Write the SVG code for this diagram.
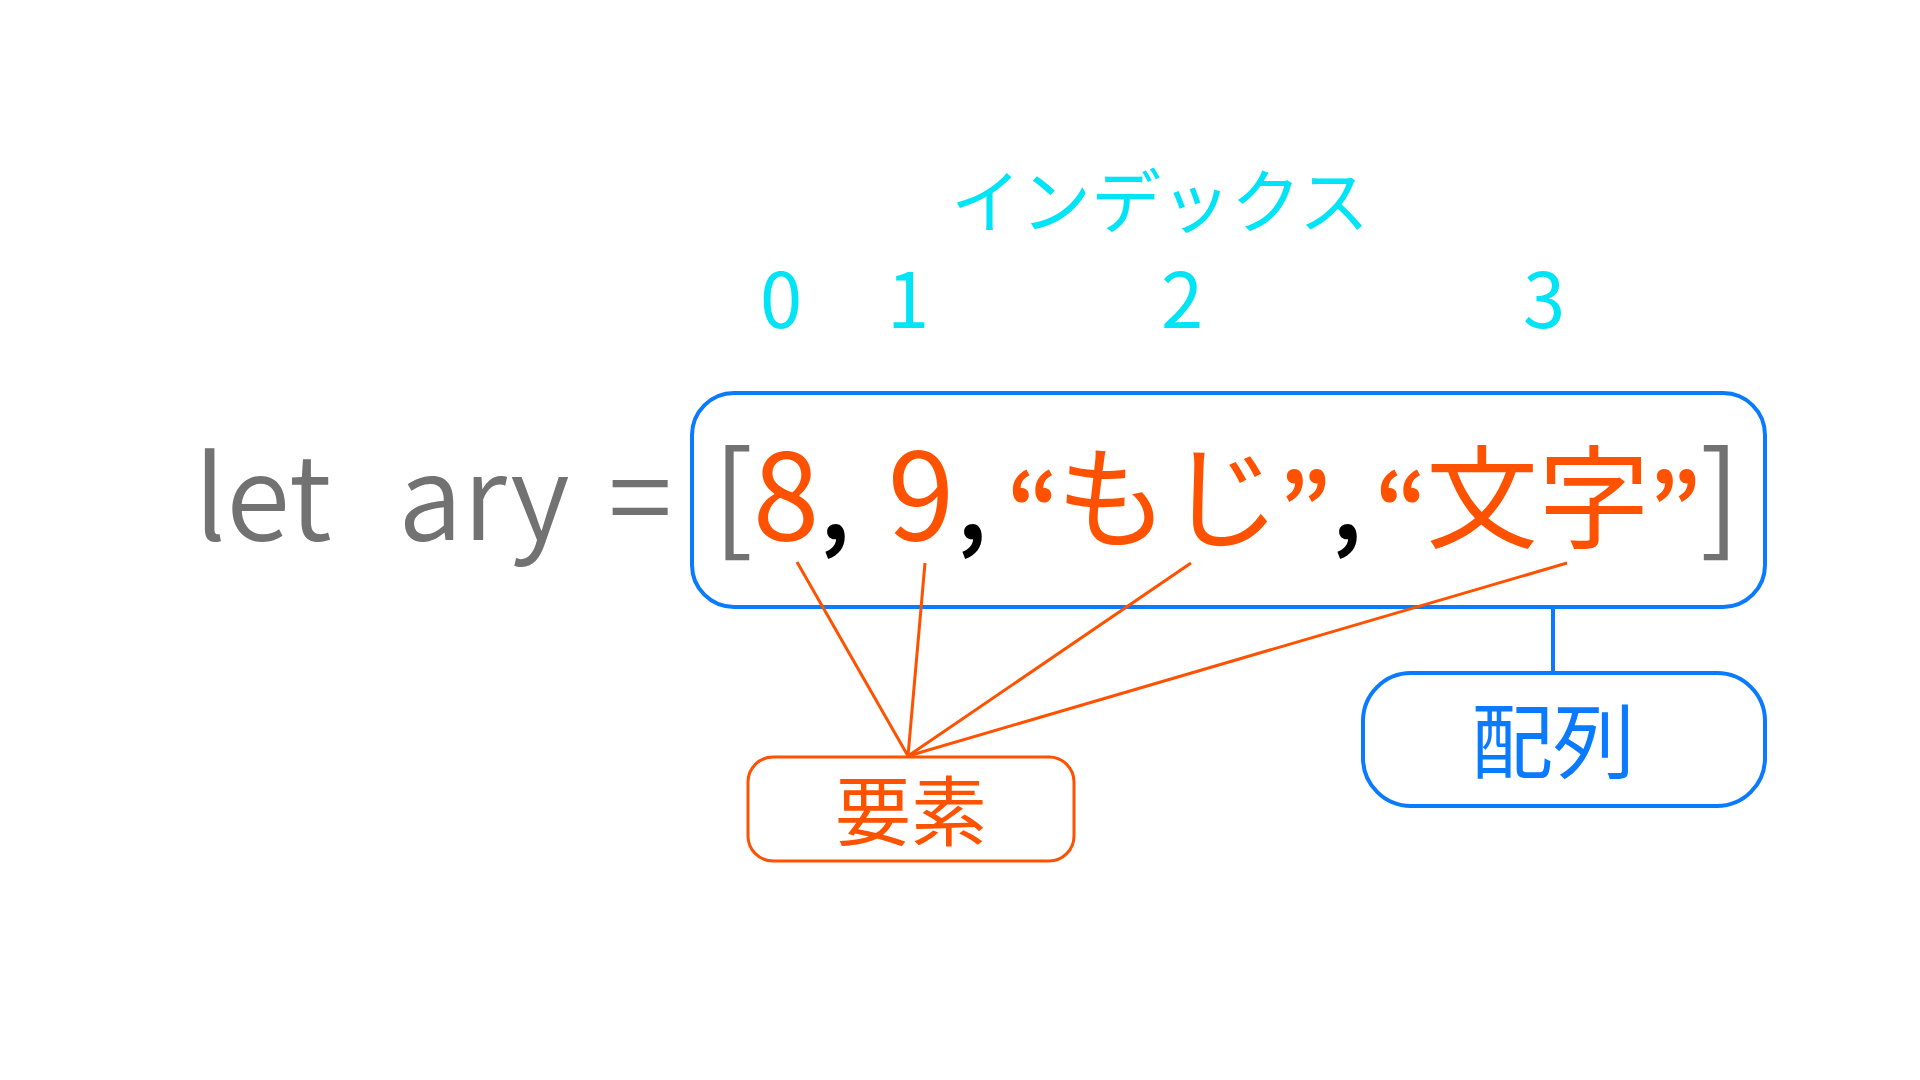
<svg xmlns="http://www.w3.org/2000/svg" width="1920" height="1080" viewBox="0 0 1920 1080">
<style>
.cjk{font-family:"Noto Sans CJK JP","Noto Sans",sans-serif;}
.gray{fill:#727272;}
.org{fill:#FF5200;}
.cyan{fill:#00E4F5;}
.blue{fill:#0A7AFF;}
.q{font-size:90px;font-weight:700;fill:#FF5200;}
.cm{font-size:88px;font-weight:700;fill:#000000;}
.box-blue{fill:none;stroke:#0A7AFF;stroke-width:4;}
.box-org{fill:none;stroke:#FF5200;stroke-width:3;}
.ln-org{stroke:#FF5200;stroke-width:3;fill:none;}
.ln-blue{stroke:#0A7AFF;stroke-width:4;fill:none;}
</style>
<rect width="1920" height="1080" fill="#ffffff"/>
<g id="code-prefix">
  <text class="cjk gray" font-size="116" font-weight="350" y="540"><tspan x="194">let</tspan><tspan x="398">ary</tspan><tspan x="640" text-anchor="middle">=</tspan></text>
</g>
<g id="index-label">
  <text class="cjk cyan" x="1160" y="228" font-size="70" text-anchor="middle">インデックス</text>
</g>
<g id="indices">
  <text class="cjk cyan" font-size="76" text-anchor="middle" y="328"><tspan x="781">0</tspan><tspan x="908">1</tspan><tspan x="1182">2</tspan><tspan x="1544">3</tspan></text>
</g>
<g id="array-box">
  <rect class="box-blue" x="692" y="393" width="1073" height="214" rx="42" ry="42"/>
  <text class="cjk" text-anchor="middle" y="540" font-size="120"><tspan class="gray" x="733">[</tspan><tspan class="org" x="786">8</tspan><tspan class="cm" x="835">,</tspan><tspan class="org" x="921">9</tspan><tspan class="cm" x="972">,</tspan><tspan class="q" x="1033">“</tspan><tspan class="org" x="1168" font-size="112">もじ</tspan><tspan class="q" x="1305">”</tspan><tspan class="cm" x="1347">,</tspan><tspan class="q" x="1401">“</tspan><tspan class="org" x="1538" font-size="112">文字</tspan><tspan class="q" x="1675">”</tspan><tspan class="gray" x="1720">]</tspan></text>
</g>
<g id="connectors">
  <line class="ln-org" x1="797" y1="562" x2="908" y2="756"/>
  <line class="ln-org" x1="925" y1="563" x2="908" y2="756"/>
  <line class="ln-org" x1="1191" y1="563" x2="908" y2="756"/>
  <line class="ln-org" x1="1567" y1="563" x2="908" y2="756"/>
  <line class="ln-blue" x1="1553" y1="607" x2="1553" y2="673"/>
</g>
<g id="element-node">
  <rect class="box-org" x="748" y="757" width="326" height="104" rx="25" ry="25"/>
  <text class="cjk org" x="911" y="840" font-size="76" text-anchor="middle">要素</text>
</g>
<g id="array-node">
  <rect class="box-blue" x="1363" y="673" width="402" height="133" rx="48" ry="48"/>
  <text class="cjk blue" x="1553" y="772" font-size="82" text-anchor="middle">配列</text>
</g>
</svg>
